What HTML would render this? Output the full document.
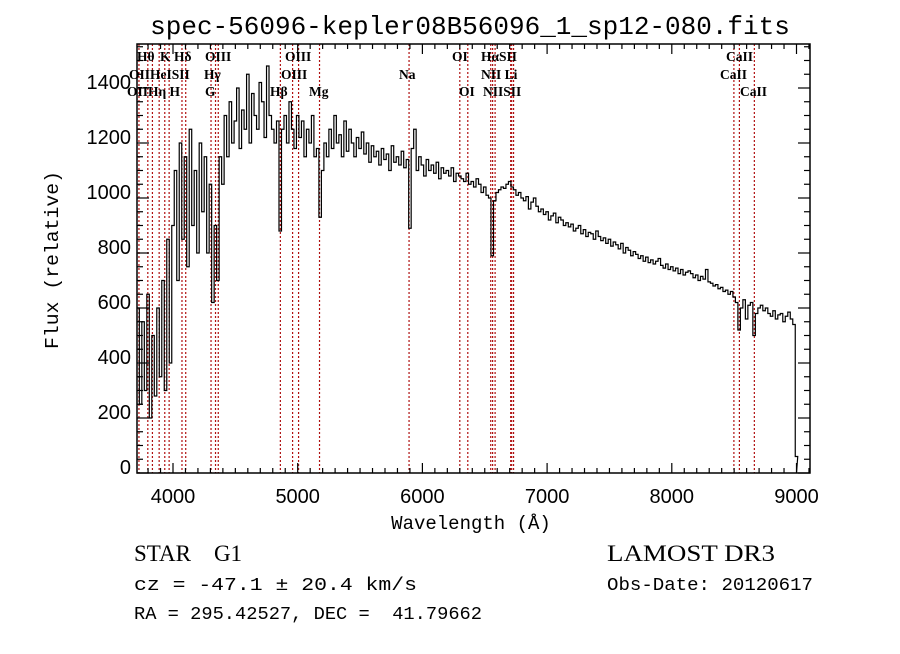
<!DOCTYPE html>
<html><head><meta charset="utf-8"><style>
body{margin:0;background:#fff;width:900px;height:649px;overflow:hidden}
svg text{fill:#000}
</style></head><body>
<svg id="chart" width="900" height="649" viewBox="0 0 900 649" xmlns="http://www.w3.org/2000/svg">
<text x="470" y="34" text-anchor="middle" font-family="Liberation Mono, monospace" font-size="26">spec-56096-kepler08B56096_1_sp12-080.fits</text>
<g id="lines"></g>
<g id="labels" font-family="Liberation Serif, serif" font-size="13.5" font-weight="bold"></g>
<g id="spec"></g>
<g id="axes"></g>
<text x="471" y="529" text-anchor="middle" font-family="Liberation Mono, monospace" font-size="19">Wavelength (Å)</text>
<text transform="translate(58,260) rotate(-90)" text-anchor="middle" font-family="Liberation Mono, monospace" font-size="19" textLength="178" lengthAdjust="spacingAndGlyphs">Flux (relative)</text>
<text x="134" y="561" font-family="Liberation Serif, serif" font-size="23" xml:space="preserve">STAR    G1</text>
<text x="607" y="561" font-family="Liberation Serif, serif" font-size="23" textLength="168" lengthAdjust="spacingAndGlyphs">LAMOST DR3</text>
<text x="134" y="590" font-family="Liberation Mono, monospace" font-size="18" textLength="283" lengthAdjust="spacingAndGlyphs">cz = -47.1 ± 20.4 km/s</text>
<text x="607" y="590" font-family="Liberation Mono, monospace" font-size="18" textLength="206" lengthAdjust="spacingAndGlyphs">Obs-Date: 20120617</text>
<text x="134" y="619" font-family="Liberation Mono, monospace" font-size="18" xml:space="preserve" textLength="348" lengthAdjust="spacingAndGlyphs">RA = 295.42527, DEC =  41.79662</text>
</svg>
<script>
const waveStart = 3720;
const waveStep = 20;
const flux = [
600,250,550,300,650,200,500,280,600,350,
700,300,850,400,900,
1100,700,1200,850,1150,750,1250,900,1100,800,1200,950,1150,800,1050,
620,900,700,1150,1050,
1300,1150,1350,1200,1280,1400,1180,1320,1250,1450,1200,1380,1300,1250,1420,1350,1220,1480,1300,1250,1200,1280,880,
1250,1300,1200,1350,1250,1180,1300,1220,1280,1150,1250,1200,1300,1150,1180,
930,1100,
1200,1150,1250,1180,1300,1200,1230,1150,1280,1170,1250,1200,1150,1220,1180,1240,1160,1200,1130,1190,1150,1170,1120,1180,1140,1160,1100,1190,1130,1150,1120,1170,1110,1140,
890,
1180,1250,1100,1150,1120,1080,1140,1100,1120,1090,1130,1070,1110,1090,1100,1080,1110,1060,1090,1080,1070,1060,1090,1050,1060,1040,1070,1050,1020,1040,1010,1000,
790,990,
1020,1030,1040,1035,1050,1060,1040,1030,
1010,1020,1000,990,1005,960,985,1000,970,950,
960,940,950,920,935,945,910,930,920,900,
910,895,905,880,890,900,870,885,860,875,
870,850,880,860,845,855,835,850,825,840,
830,815,835,800,820,810,790,805,795,780,
790,770,785,765,775,760,770,780,755,745,
760,740,750,735,745,725,740,720,730,735,
725,710,720,700,715,705,740,695,690,680,
685,670,675,660,665,650,660,640,620,520,
600,630,560,610,620,500,580,600,610,590,
600,580,570,590,560,575,580,550,570,585,
560,540,60];
const lineWaves = [3727,3798,3835,3889,3934,3969,4072,4102,4305,4341,4363,4861,4959,5007,5175,5893,6300,6364,6548,6563,6583,6708,6716,6731,8498,8542,8662];
const lineLabels = [
 ["Hθ",137,1],["K",160,1],["Hδ",174,1],["OIII",205,1],["OIII",285,1],["OI",452,1],["HαSII",481,1],["CaII",726,1],
 ["OIIHeISII",129,2],["Hγ",204,2],["OIII",281,2],["Na",399,2],["NII Li",481,2],["CaII",720,2],
 ["OIIHη H",127,3],["G",205,3],["Hβ",270,3],["Mg",309,3],["OI",459,3],["NIISII",483,3],["CaII",740,3]];
const xTickLabels = [4000,5000,6000,7000,8000,9000];
const yTickLabels = [0,200,400,600,800,1000,1200,1400];

const L=137,R=810,T=44,B=473;
const xs = w => 173 + (w-4000)*0.1247;
const ys = v => B - v*0.275;
const NS="http://www.w3.org/2000/svg";
function mk(tag, attrs, parent){const e=document.createElementNS(NS,tag);for(const k in attrs)e.setAttribute(k,attrs[k]);parent.appendChild(e);return e;}
const gL=document.getElementById('lines'), gT=document.getElementById('labels'), gS=document.getElementById('spec'), gA=document.getElementById('axes');
lineWaves.forEach(w=>{
  const l=mk('line',{x1:xs(w),x2:xs(w),y1:T,y2:B,stroke:'#b01010','stroke-width':1.2,'stroke-dasharray':'2,2'},gL);
  
  
});
lineLabels.forEach(d=>{
  const t=mk('text',{x:d[1],y:[0,61,79,96][d[2]]},gT);
  t.textContent=d[0];
  
  
});
let pts=[];
flux.forEach((v,i)=>{
  const w0=waveStart+waveStep*i-waveStep/2, w1=w0+waveStep;
  const x0=Math.max(L,xs(w0)), x1=xs(w1);
  pts.push(x0+','+ys(v), x1+','+ys(v));
});
pts.push(xs(9000)+','+ys(0));
const pl=mk('polyline',{points:pts.join(' '),fill:'none',stroke:'#000','stroke-width':1.2},gS);


const fr=mk('rect',{x:L,y:T,width:R-L,height:B-T,fill:'none',stroke:'#000','stroke-width':1.5},gA);


for(let w=3800;w<=9100;w+=100){
  const maj=w%1000===0, len=maj?10:5;
  mk('line',{x1:xs(w),x2:xs(w),y1:B,y2:B-len,stroke:'#000','stroke-width':1.2},gA);
  mk('line',{x1:xs(w),x2:xs(w),y1:T,y2:T+len,stroke:'#000','stroke-width':1.2},gA);
}
for(let v=0;v<=1550;v+=50){
  const maj=v%200===0, len=maj?12:6;
  mk('line',{x1:L,x2:L+len,y1:ys(v),y2:ys(v),stroke:'#000','stroke-width':1.2},gA);
  mk('line',{x1:R,x2:R-len,y1:ys(v),y2:ys(v),stroke:'#000','stroke-width':1.2},gA);
}
xTickLabels.forEach(w=>{
  const t=mk('text',{x:xs(w),y:503,'text-anchor':'middle','font-family':'Liberation Sans, sans-serif','font-size':20},gA);
  t.textContent=w;
  
  
});
yTickLabels.forEach(v=>{
  const t=mk('text',{x:131,y:ys(v)+1,'text-anchor':'end','font-family':'Liberation Sans, sans-serif','font-size':20},gA);
  t.textContent=v;
  
  
});
</script>
</body></html>
